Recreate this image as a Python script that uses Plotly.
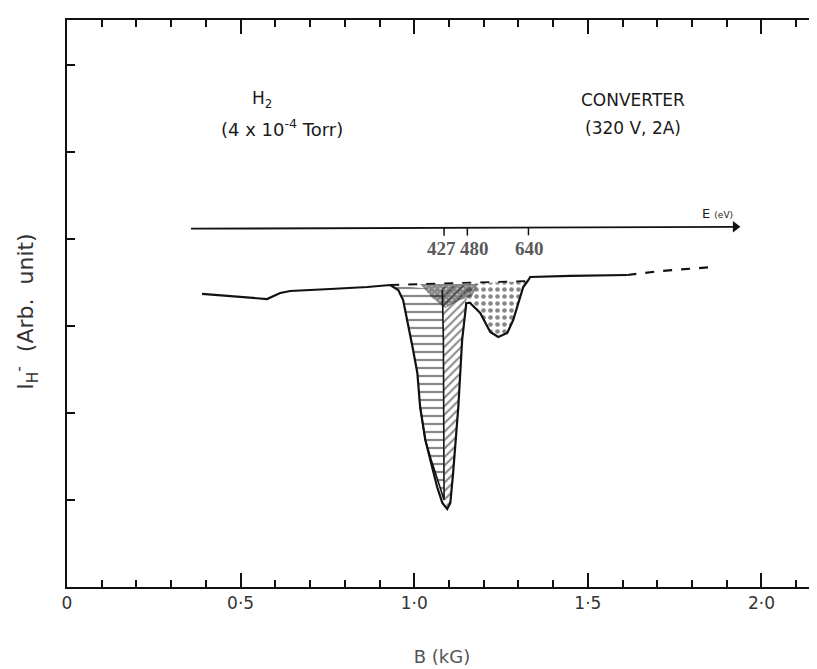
import plotly.graph_objects as go

# ---------------- data (B in kG, I in arbitrary units) ----------------
# measured total curve
TOTAL_B = [0.389, 0.455, 0.519, 0.576, 0.614, 0.643, 0.758, 0.865, 0.931, 0.954, 0.968, 0.980,
           0.994, 1.009, 1.017, 1.032, 1.052, 1.066, 1.081, 1.095, 1.104, 1.112, 1.127, 1.138,
           1.150, 1.161, 1.190, 1.219, 1.242, 1.268, 1.285, 1.300, 1.314, 1.329, 1.334, 1.450, 1.614]
TOTAL_I = [3.368, 3.345, 3.322, 3.310, 3.379, 3.402, 3.425, 3.448, 3.471, 3.414, 3.299, 3.069,
           2.782, 2.460, 2.069, 1.690, 1.379, 1.149, 0.966, 0.897, 0.966, 1.310, 2.069, 2.839,
           3.264, 3.264, 3.149, 2.931, 2.874, 2.920, 3.069, 3.264, 3.448, 3.529, 3.563, 3.575, 3.586]
# dashed tail of the curve
TAIL_B = [1.614, 1.709, 1.862]
TAIL_I = [3.586, 3.632, 3.678]
# dashed reference level over the dip
REF_B = [0.931, 1.329]
REF_I = [3.471, 3.517]

# component outlines (closed)
COMP_A_B = [0.931, 0.954, 0.968, 0.980, 0.994, 1.009, 1.017, 1.032, 1.049, 1.086, 1.084, 1.081]
COMP_A_I = [3.471, 3.414, 3.299, 3.069, 2.782, 2.460, 2.069, 1.690, 1.460, 1.000, 2.839, 3.414]
COMP_B_B = [1.081, 1.084, 1.089, 1.095, 1.104, 1.112, 1.127, 1.138, 1.150, 1.156]
COMP_B_I = [3.448, 2.839, 1.000, 0.897, 0.966, 1.310, 2.069, 2.839, 3.264, 3.471]
COMP_C_B = [1.150, 1.150, 1.161, 1.190, 1.219, 1.242, 1.268, 1.285, 1.300, 1.314, 1.326]
COMP_C_I = [3.483, 3.264, 3.264, 3.149, 2.931, 2.874, 2.920, 3.069, 3.264, 3.448, 3.517]
OVERLAP_B = [1.017, 1.184, 1.167, 1.133, 1.089, 1.052]
OVERLAP_I = [3.483, 3.483, 3.345, 3.299, 3.207, 3.322]

# energy axis
E_AXIS_B = [0.357, 1.925]
E_AXIS_I = [4.118, 4.140]
E_TICK_B = [1.086, 1.153, 1.329]
E_TICK_LABELS = ["427", "480", "640"]
E_LABEL_B = [1.078, 1.173, 1.331]

X_TICKS = [0, 0.5, 1.0, 1.5, 2.0]
X_TICK_TEXT = ["0", "0·5", "1·0", "1·5", "2·0"]
Y_TICKS = [1, 2, 3, 4, 5, 6]

SANS = "DejaVu Sans, Liberation Sans, sans-serif"
SERIF = "Liberation Serif, Times New Roman, serif"
INK = "#111"

fig = go.Figure()


def close(a):
    return list(a) + [a[0]]


def patch(bx, iy, shape, size, solidity):
    fig.add_trace(go.Scatter(
        x=close(bx), y=close(iy), mode="lines", fill="toself",
        line=dict(width=0, color="rgba(0,0,0,0)"),
        fillcolor="rgba(255,255,255,0)",
        fillpattern=dict(shape=shape, fgcolor=INK, bgcolor="rgba(255,255,255,0)",
                         size=size, solidity=solidity),
        hoverinfo="skip", showlegend=False))


patch(COMP_C_B, COMP_C_I, ".", 7, 0.35)
patch(COMP_A_B, COMP_A_I, "-", 8, 0.28)
patch(COMP_B_B, COMP_B_I, "/", 6, 0.35)
patch(OVERLAP_B, OVERLAP_I, "x", 4, 0.9)

# component boundaries
fig.add_trace(go.Scatter(x=COMP_A_B[6:], y=COMP_A_I[6:], mode="lines",
                         line=dict(color=INK, width=1.6), hoverinfo="skip", showlegend=False))

# reference dashed level
fig.add_trace(go.Scatter(x=REF_B, y=REF_I, mode="lines",
                         line=dict(color=INK, width=1.8, dash="dash"),
                         hoverinfo="skip", showlegend=False))
# total curve
fig.add_trace(go.Scatter(x=TOTAL_B, y=TOTAL_I, mode="lines",
                         line=dict(color=INK, width=2.2),
                         hoverinfo="skip", showlegend=False))
fig.add_trace(go.Scatter(x=TAIL_B, y=TAIL_I, mode="lines",
                         line=dict(color=INK, width=2.2, dash="dash"),
                         hoverinfo="skip", showlegend=False))

# energy axis with arrow head
fig.add_trace(go.Scatter(x=E_AXIS_B, y=E_AXIS_I, mode="lines",
                         line=dict(color=INK, width=1.8),
                         hoverinfo="skip", showlegend=False))
fig.add_trace(go.Scatter(x=[E_AXIS_B[-1]], y=[E_AXIS_I[-1]], mode="markers",
                         marker=dict(symbol="triangle-right", size=10, color=INK),
                         hoverinfo="skip", showlegend=False))


def e_level(b):
    f = (b - E_AXIS_B[0]) / (E_AXIS_B[1] - E_AXIS_B[0])
    return E_AXIS_I[0] + f * (E_AXIS_I[1] - E_AXIS_I[0])


tick_x, tick_y = [], []
for b in E_TICK_B:
    yl = e_level(b)
    tick_x += [b, b, None]
    tick_y += [yl, yl - 0.09, None]
fig.add_trace(go.Scatter(x=tick_x, y=tick_y, mode="lines",
                         line=dict(color=INK, width=1.5),
                         hoverinfo="skip", showlegend=False))
fig.add_trace(go.Scatter(x=E_LABEL_B, y=[e_level(b) - 0.15 for b in E_LABEL_B], mode="text",
                         text=["<b>%s</b>" % t for t in E_TICK_LABELS], textposition="bottom center",
                         textfont=dict(family=SERIF, size=19, color="#5a5a5a"),
                         hoverinfo="skip", showlegend=False))

annos = [
    dict(x=0.562, y=5.60, text="H<sub>2</sub>", font=dict(family=SANS, size=17, color="#1a1a1a")),
    dict(x=0.620, y=5.28, text="(4 x 10<sup>-4</sup> Torr)", font=dict(family=SANS, size=18, color="#1a1a1a")),
    dict(x=1.631, y=5.60, text="CONVERTER", font=dict(family=SANS, size=17, color="#1a1a1a")),
    dict(x=1.631, y=5.28, text="(320 V, 2A)", font=dict(family=SANS, size=17, color="#1a1a1a")),
    dict(x=1.925, y=4.29, text="E <span style='font-size:9px'>(eV)</span>", xanchor="right",
         font=dict(family=SANS, size=13, color="#1a1a1a")),
]
for a in annos:
    a.update(xref="x", yref="y", showarrow=False)
    fig.add_annotation(**a)

fig.add_annotation(xref="paper", yref="paper", x=-0.055, y=0.485, xanchor="center", yanchor="middle",
                   text="I<sub>H</sub><sup>-</sup>  (Arb.  unit)", textangle=-90, showarrow=False,
                   font=dict(family=SANS, size=22, color="#333"))

fig.update_layout(
    width=809, height=661,
    margin=dict(l=59, r=0, t=12, b=82),
    paper_bgcolor="white", plot_bgcolor="white",
    showlegend=False,
    xaxis=dict(range=[0, 2.16], tickvals=X_TICKS, ticktext=X_TICK_TEXT,
               ticks="inside", ticklen=14, tickwidth=1.5, tickcolor=INK,
               minor=dict(dtick=0.1, ticks="inside", ticklen=7, tickwidth=1.5, tickcolor=INK),
               showline=True, linewidth=2, linecolor=INK, mirror="allticks",
               showgrid=False, zeroline=False,
               tickfont=dict(family=SANS, size=17, color="#333"),
               title=dict(text="B (kG)", font=dict(family=SANS, size=18, color="#555"), standoff=38)),
    yaxis=dict(range=[0, 6.517], tickvals=Y_TICKS, showticklabels=False,
               ticks="inside", ticklen=8, tickwidth=1.5, tickcolor=INK,
               showline=True, linewidth=2, linecolor=INK,
               showgrid=False, zeroline=False),
)

fig.write_html("out.html")
